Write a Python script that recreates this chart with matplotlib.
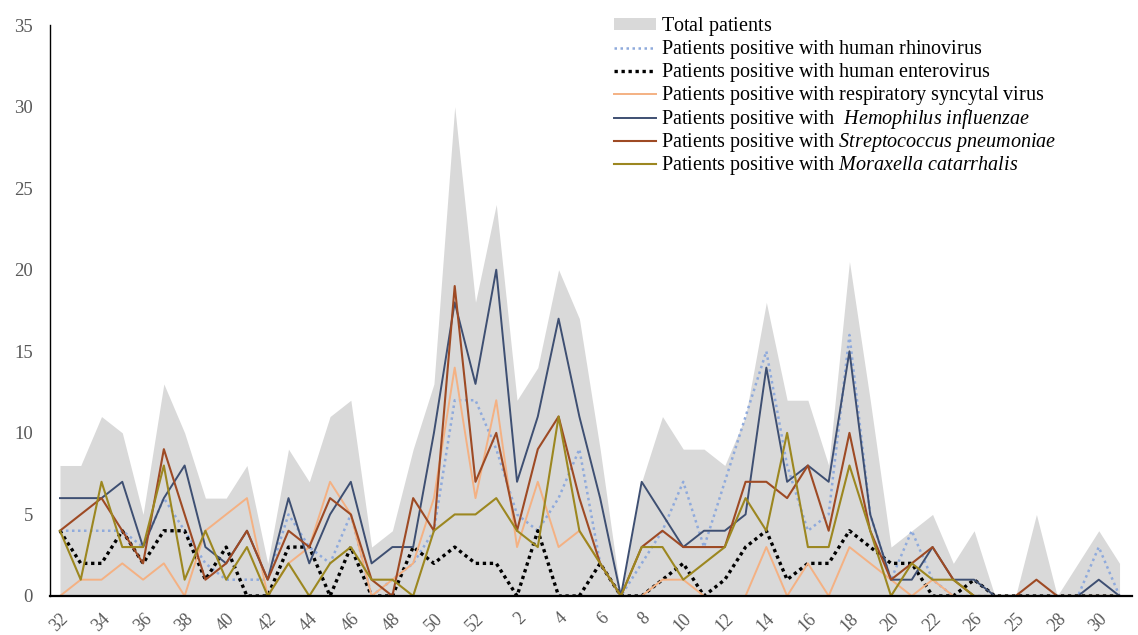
import matplotlib
matplotlib.use('Agg')
import matplotlib.pyplot as plt
import matplotlib.transforms as mtransforms
import numpy as np

# ---- data (epidemiological weeks 32 .. 52, 1 .. 31) ----
weeks = list(range(32, 53)) + list(range(1, 32))
tick_labels = ['32', '34', '36', '38', '40', '42', '44', '46', '48', '50', '52',
               '2', '4', '6', '8', '10', '12', '14', '16', '18', '20', '22',
               '26', '25', '28', '30']

total = [8, 8, 11, 10, 5, 13, 10, 6, 6, 8, 2, 9, 7, 11, 12, 3, 4, 9, 13, 30, 18,
         24, 12, 14, 20, 17, 9, 0, 7, 11, 9, 9, 8, 11, 18, 12, 12, 8, 20.5, 12, 3,
         4, 5, 2, 4, 0, 0, 5, 0, 2, 4, 2]
rhinovirus = [4, 4, 4, 4, 3, 6, 4, 2, 1, 1, 1, 5, 3, 2, 5, 0, 1, 2, 4, 12, 12,
              9, 5, 4, 6, 9, 2, 0, 2, 4, 7, 3, 7, 11, 15, 8, 4, 5, 16, 5, 1,
              4, 1, 0, 0, 0, 0, 0, 0, 0, 3, 0]
enterovirus = [4, 2, 2, 4, 2, 4, 4, 1, 3, 0, 0, 3, 3, 0, 3, 0, 0, 3, 2, 3, 2,
               2, 0, 4, 0, 0, 2, 0, 0, 1, 2, 0, 1, 3, 4, 1, 2, 2, 4, 3, 2,
               2, 0, 0, 1, 0, 0, 0, 0, 0, 0, 0]
rsv = [0, 1, 1, 2, 1, 2, 0, 4, 5, 6, 0, 2, 3, 7, 5, 0, 1, 2, 6, 14, 6,
       12, 3, 7, 3, 4, 2, 0, 0, 1, 1, 0, 0, 0, 3, 0, 2, 0, 3, 2, 1,
       0, 1, 0, 0, 0, 0, 0, 0, 0, 0, 0]
h_influenzae = [6, 6, 6, 7, 3, 6, 8, 3, 2, 4, 1, 6, 2, 5, 7, 2, 3, 3, 10, 18, 13,
                20, 7, 11, 17, 11, 6, 0, 7, 5, 3, 4, 4, 5, 14, 7, 8, 7, 15, 5, 1,
                1, 3, 1, 1, 0, 0, 0, 0, 0, 1, 0]
s_pneumoniae = [4, 5, 6, 4, 2, 9, 5, 1, 2, 4, 1, 4, 3, 6, 5, 1, 0, 6, 4, 19, 7,
                10, 4, 9, 11, 6, 2, 0, 3, 4, 3, 3, 3, 7, 7, 6, 8, 4, 10, 4, 1,
                2, 3, 1, 0, 0, 0, 1, 0, 0, 0, 0]
m_catarrhalis = [4, 1, 7, 3, 3, 8, 1, 4, 1, 3, 0, 2, 0, 2, 3, 1, 1, 0, 4, 5, 5,
                 6, 4, 3, 11, 4, 2, 0, 3, 3, 1, 2, 3, 6, 4, 10, 3, 3, 8, 4, 0,
                 2, 1, 1, 0, 0, 0, 0, 0, 0, 0, 0]

series_labels = [
    r'$\mathrm{Total\ patients}$',
    r'$\mathrm{Patients\ positive\ with\ human\ rhinovirus}$',
    r'$\mathrm{Patients\ positive\ with\ human\ enterovirus}$',
    r'$\mathrm{Patients\ positive\ with\ respiratory\ syncytal\ virus}$',
    r'$\mathrm{Patients\ positive\ with\ \ }\mathit{Hemophilus\ influenzae}$',
    r'$\mathrm{Patients\ positive\ with\ }\mathit{Streptococcus\ pneumoniae}$',
    r'$\mathrm{Patients\ positive\ with\ }\mathit{Moraxella\ catarrhalis}$',
]

plt.rcParams['font.family'] = ['Liberation Serif', 'DejaVu Serif']
plt.rcParams['mathtext.fontset'] = 'custom'
plt.rcParams['mathtext.rm'] = 'Liberation Serif'
plt.rcParams['mathtext.it'] = 'Liberation Serif:italic'

W, H = 1138, 635
fig = plt.figure(figsize=(W / 100, H / 100), dpi=100)
ax = fig.add_axes([50 / W, 39 / H, 1082 / W, 571 / H])

x = np.arange(len(weeks))
ax.fill_between(x, 0, total, color='#D9D9D9', lw=0, label=series_labels[0])
ax.plot(x, rhinovirus, color='#8FAADC', lw=1.8, ls=(0, (1, 1.4)),
        label=series_labels[1])
ax.plot(x, enterovirus, color='#000000', lw=2.4, ls=(0, (1, 1.1)),
        label=series_labels[2])
ax.plot(x, rsv, color='#F4B183', lw=1.4, label=series_labels[3])
ax.plot(x, h_influenzae, color='#3E4F72', lw=1.4, label=series_labels[4])
ax.plot(x, s_pneumoniae, color='#9E4A24', lw=1.5, label=series_labels[5])
ax.plot(x, m_catarrhalis, color='#9C8720', lw=1.5, label=series_labels[6])

ax.set_xlim(-0.48, 51.6)
ax.set_ylim(0, 35)
ax.set_yticks(range(0, 36, 5))
ax.set_xticks(x[::2])
ax.set_xticklabels(tick_labels, rotation=45, ha='right', va='top',
                   rotation_mode='anchor')
shift = mtransforms.ScaledTranslation(-7 / 100, 0, fig.dpi_scale_trans)
for lab in ax.get_xticklabels():
    lab.set_transform(lab.get_transform() + shift)

for s in ['top', 'right']:
    ax.spines[s].set_visible(False)
ax.spines['left'].set_color('black')
ax.spines['left'].set_linewidth(1.0)
ax.spines['bottom'].set_color('black')
ax.spines['bottom'].set_linewidth(1.6)

ax.tick_params(axis='both', length=0, labelsize=13.5, labelcolor='#595959')
ax.tick_params(axis='y', pad=12.2)
ax.tick_params(axis='x', pad=10, labelsize=12.8)

leg = ax.legend(loc='upper left', bbox_to_anchor=(614 / W, 1 - 15 / H),
                bbox_transform=fig.transFigure, frameon=False, fontsize=14.5,
                handlelength=2.1, handleheight=0.5, handletextpad=0.25,
                labelspacing=0.0, borderpad=0, borderaxespad=0)

fig.savefig('out.png', dpi=100)
